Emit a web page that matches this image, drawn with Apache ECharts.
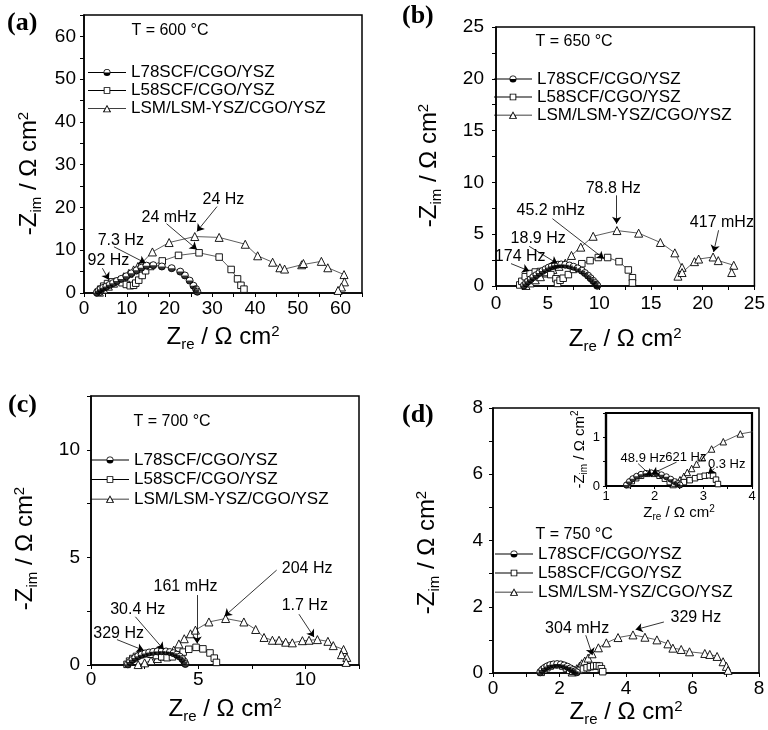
<!DOCTYPE html>
<html><head><meta charset="utf-8">
<script src="https://cdn.jsdelivr.net/npm/echarts@6/dist/echarts.min.js"></script>
<style>html,body{margin:0;padding:0;background:#fff}#c{width:768px;height:730px}</style>
</head><body><div id="c"></div>
<script>
// ---------- data ----------
const seriesNames = ['L78SCF/CGO/YSZ', 'L58SCF/CGO/YSZ', 'LSM/LSM-YSZ/CGO/YSZ'];
const panelLetters = ['(a)', '(b)', '(c)', '(d)'];
const temperatures = ['T = 600 °C', 'T = 650 °C', 'T = 700 °C', 'T = 750 °C'];
// axis ranges: [min, max, tick step, label step]
const a_axis = [0, 65, 5, 10];
const b_axis = [0, 25, 2.5, 5];
const c_axis = [0, 12.5, 2.5, 5];
const d_axis = [0, 8, 1, 2];
const inset_xAxis = [1, 4, 0.5, 1];
const inset_yAxis = [0, 1.5, 0.5, 1];

const a_L78 = [[3.0,0.1],[3.4,0.5],[3.9,0.9],[4.5,1.2],[5.2,1.5],[6.0,1.9],[6.8,2.3],[7.7,2.8],[8.7,3.3],[9.9,3.9],[11.1,4.6],[12.3,5.3],[13.4,5.9],[14.6,6.4],[16.2,6.5],[18.2,6.2],[20.5,5.8],[22.5,5.0],[23.6,4.1],[24.7,2.9],[25.6,1.7],[26.2,0.9],[26.5,0.3]];
const a_L58 = [[3.3,0.2],[3.9,0.9],[4.6,1.6],[5.5,2.2],[6.6,2.6],[7.8,2.7],[8.9,2.4],[9.9,2.0],[10.8,1.7],[11.6,1.8],[12.1,2.3],[12.8,3.0],[13.6,4.1],[14.4,5.2],[15.6,6.2],[18.3,7.5],[22.1,8.8],[26.9,9.4],[31.6,8.4],[34.4,5.5],[35.9,3.3],[36.7,1.8],[37.4,0.9]];
const a_LSM = [[3.6,0.2],[4.6,0.9],[5.7,1.6],[6.9,2.3],[8.1,3.0],[9.3,3.8],[10.5,4.6],[11.6,5.4],[12.6,6.2],[13.4,6.9],[16.0,9.6],[19.9,11.8],[25.9,13.2],[31.6,13.0],[37.7,11.4],[40.6,8.7],[44.1,7.2],[45.8,5.9],[46.9,5.6],[50.9,6.6],[51.3,6.9],[55.5,7.4],[57.0,5.9],[60.8,4.3],[60.9,2.6],[60.2,1.4],[59.4,0.6]];

const b_L78 = [[2.7,0.05],[2.9,0.25],[3.1,0.45],[3.35,0.65],[3.6,0.85],[3.9,1.05],[4.2,1.25],[4.5,1.45],[4.8,1.62],[5.1,1.78],[5.4,1.9],[5.7,2.0],[6.0,2.06],[6.3,2.08],[6.7,2.05],[7.1,1.98],[7.5,1.86],[7.9,1.7],[8.3,1.48],[8.6,1.25],[8.9,1.0],[9.15,0.75],[9.4,0.5],[9.6,0.28],[9.75,0.1],[9.8,0.02]];
const b_L58 = [[2.3,0.1],[2.5,0.45],[2.83,0.9],[3.3,1.2],[3.8,1.35],[4.3,1.4],[4.8,1.3],[5.3,1.1],[5.8,0.7],[5.95,0.25],[6.2,0.55],[6.5,0.75],[7.0,1.1],[7.5,1.6],[8.3,2.15],[9.1,2.45],[9.9,2.75],[10.8,2.75],[11.9,2.35],[12.8,1.55],[13.2,0.8],[13.2,0.3]];
const b_LSM = [[2.9,0.05],[3.3,0.3],[3.8,0.6],[4.3,0.9],[4.9,1.25],[5.5,1.6],[6.1,1.9],[6.7,2.2],[7.3,2.95],[8.2,3.75],[9.4,4.8],[11.7,5.35],[13.8,5.1],[15.9,4.2],[17.3,3.2],[18.0,1.8],[17.6,0.95],[18.0,1.3],[19.2,2.35],[19.6,2.6],[21.0,2.8],[21.5,2.45],[23.0,2.0],[22.8,1.3]];

const c_L78 = [[1.72,0.03],[1.82,0.14],[1.93,0.24],[2.06,0.33],[2.2,0.41],[2.36,0.48],[2.53,0.54],[2.71,0.58],[2.9,0.61],[3.1,0.63],[3.3,0.64],[3.5,0.63],[3.68,0.6],[3.85,0.55],[4.0,0.48],[4.14,0.39],[4.26,0.28],[4.35,0.16],[4.4,0.05]];
const c_L58 = [[1.68,0.03],[1.8,0.18],[1.95,0.3],[2.12,0.4],[2.32,0.48],[2.55,0.52],[2.8,0.5],[3.05,0.44],[3.3,0.38],[3.55,0.34],[3.8,0.38],[4.05,0.48],[4.3,0.6],[4.56,0.73],[4.9,0.82],[5.22,0.75],[5.55,0.56],[5.75,0.32],[5.85,0.12]];
const c_LSM = [[2.2,0.02],[2.5,0.1],[2.8,0.2],[3.1,0.3],[3.35,0.42],[3.6,0.55],[3.86,0.69],[4.1,0.98],[4.35,1.22],[4.64,1.45],[4.87,1.62],[5.5,2.0],[6.28,2.16],[7.13,2.0],[7.68,1.65],[8.07,1.28],[8.46,1.15],[8.77,1.15],[9.08,1.06],[9.39,1.03],[9.86,1.13],[10.17,1.15],[10.56,1.18],[11.05,1.1],[11.3,0.9],[11.78,0.72],[11.68,0.48],[11.93,0.35],[11.9,0.12]];

const d_L78 = [[1.42,0.02],[1.48,0.09],[1.55,0.15],[1.63,0.2],[1.72,0.24],[1.82,0.26],[1.93,0.27],[2.04,0.26],[2.14,0.23],[2.24,0.19],[2.33,0.14],[2.41,0.09],[2.47,0.05],[2.52,0.02]];
const d_L58 = [[1.45,0.02],[1.53,0.1],[1.62,0.16],[1.72,0.21],[1.85,0.25],[1.98,0.25],[2.1,0.21],[2.21,0.15],[2.31,0.08],[2.4,0.05],[2.5,0.05],[2.6,0.08],[2.72,0.12],[2.83,0.16],[2.93,0.19],[3.03,0.21],[3.12,0.22],[3.2,0.21],[3.26,0.13],[3.3,0.04]];
const d_LSM = [[2.38,0.03],[2.45,0.08],[2.52,0.13],[2.6,0.2],[2.67,0.28],[2.76,0.36],[2.86,0.45],[2.98,0.58],[3.17,0.76],[3.41,0.91],[3.76,1.07],[4.21,1.15],[4.57,1.08],[4.93,1.0],[5.26,0.88],[5.41,0.75],[5.66,0.71],[5.91,0.64],[6.37,0.59],[6.52,0.56],[6.74,0.5],[6.92,0.34],[7.02,0.2],[7.07,0.08]];

// annotations: [text, text position, arrow start, arrow end]
const a_notes = [
  ['92 Hz', [5.7, 7.5], [4.3, 5.8], [5.8, 3.1]],
  ['7.3 Hz', [8.6, 12.2], [7.0, 10.8], [14.4, 7.0]],
  ['24 mHz', [19.9, 17.7], [19.3, 16.2], [26.4, 10.2]],
  ['24 Hz', [32.6, 21.8], [31.1, 20.2], [26.4, 14.4]]
];
const b_notes = [
  ['174 Hz', [2.34, 2.87], [1.45, 2.16], [3.21, 1.45]],
  ['18.9 Hz', [4.08, 4.57], [3.21, 3.83], [5.94, 2.16]],
  ['45.2 mHz', [5.3, 7.24], [5.46, 6.5], [10.44, 2.64]],
  ['78.8 Hz', [11.34, 9.4], [11.67, 8.75], [11.67, 6.0]],
  ['417 mHz', [21.85, 6.08], [21.53, 5.38], [21.05, 3.28]]
];
const c_notes = [
  ['329 Hz', [1.29, 1.46], [1.21, 1.18], [2.46, 0.68]],
  ['30.4 Hz', [2.18, 2.58], [2.07, 2.24], [3.39, 0.72]],
  ['161 mHz', [4.41, 3.63], [4.95, 3.25], [4.95, 1.0]],
  ['204 Hz', [10.08, 4.49], [8.66, 4.41], [6.23, 2.27]],
  ['1.7 Hz', [9.97, 2.78], [9.7, 2.36], [10.4, 1.3]]
];
const d_notes = [
  ['304 mHz', [2.53, 1.34], [2.79, 1.14], [2.99, 0.54]],
  ['329 Hz', [6.1, 1.68], [5.14, 1.54], [4.29, 1.31]]
];
const inset_notes = [
  ['48.9 Hz', [1.76, 0.56], [1.66, 0.46], [1.94, 0.2]],
  ['621 Hz', [2.64, 0.59], [2.45, 0.49], [1.94, 0.25]],
  ['0.3 Hz', [3.48, 0.44], [3.23, 0.36], [3.1, 0.25]]
];
const tempPositions = [[20.1, 61.4], [7.55, 23.55], [3.78, 11.32], [2.44, 4.17]];

// ---------- layout / styles ----------
const font = "'Liberation Sans', Arial, Helvetica, sans-serif";
const serif = "'Liberation Serif', 'Times New Roman', serif";
const yName = '-Z{s|im} / Ω cm{p|2}';
const xName = 'Z{s|re} / Ω cm{p|2}';

const panels = [
  {axis: a_axis, L78: a_L78, L58: a_L58, LSM: a_LSM, notes: a_notes,
   grid: {left: 84, top: 15, width: 278, height: 278}, legend: {left: 88, top: 64, gap: 1},
   yGap: 40, yShift: 39, xGap: 30, yMargin: 8, xMargin: 6, title: {left: 7, top: 10}},
  {axis: b_axis, L78: b_L78, L58: b_L58, LSM: b_LSM, notes: b_notes,
   grid: {left: 496, top: 27, width: 259, height: 259}, legend: {left: 494, top: 70.5, gap: 1},
   yGap: 52, yShift: 18, xGap: 39, yMargin: 12, xMargin: 8, title: {left: 402, top: 3}},
  {axis: c_axis, L78: c_L78, L58: c_L58, LSM: c_LSM, notes: c_notes,
   grid: {left: 91, top: 396, width: 268, height: 269}, legend: {left: 91, top: 451.5, gap: 2.5},
   yGap: 51, yShift: 36, xGap: 30, yMargin: 11, xMargin: 5.5, title: {left: 8, top: 392}},
  {axis: d_axis, L78: d_L78, L58: d_L58, LSM: d_LSM, notes: d_notes,
   grid: {left: 493, top: 408, width: 266, height: 265}, legend: {left: 495, top: 545.5, gap: 2},
   yGap: 51, yShift: 24, xGap: 24, yMargin: 10, xMargin: 6, title: {left: 402, top: 402}}
];

const icons = {
  'L78SCF/CGO/YSZ': 'path://M0,3.6L15.5,3.6L15.5,4.4L0,4.4Z M22.5,3.6L38,3.6L38,4.4L22.5,4.4Z M15.5,4A3.5,3.5 0 0 0 22.5,4Z M22.5,4A3.5,3.5 0 0 0 15.5,4L16.3,4A2.7,2.7 0 0 1 21.7,4Z',
  'L58SCF/CGO/YSZ': 'path://M0,3.6L15.7,3.6L15.7,4.4L0,4.4Z M22.3,3.6L38,3.6L38,4.4L22.3,4.4Z M15.7,0.7L22.3,0.7L22.3,7.3L15.7,7.3Z M16.6,1.6L16.6,6.4L21.4,6.4L21.4,1.6Z',
  'LSM/LSM-YSZ/CGO/YSZ': 'path://M0,3.6L16.8,3.6L16.8,4.4L0,4.4Z M21.2,3.6L38,3.6L38,4.4L21.2,4.4Z M19,0L23.2,7.6L14.8,7.6Z M19,1.9L16.4,6.9L21.6,6.9Z'
};

function fmt(r) {
  return function (v) {
    const k = v / r[3];
    return Math.abs(k - Math.round(k)) < 1e-6 ? String(v) : '';
  };
}
function axis(gi, r, o) {
  return {
    type: 'value', gridIndex: gi, min: r[0], max: r[1], interval: r[2],
    axisLine: {show: true, onZero: false, lineStyle: {color: '#000', width: o.lw}},
    axisTick: {show: true, length: o.tick, lineStyle: {color: '#000', width: 1}},
    splitLine: {show: false},
    axisLabel: {show: true, margin: o.margin, fontSize: o.fs, color: '#000', fontFamily: font, formatter: fmt(r)},
    name: o.shift ? o.name + '{w|\u00a0}' : o.name, nameLocation: 'middle', nameGap: o.gap,
    nameTextStyle: {fontSize: o.nfs, color: '#000', fontFamily: font,
      rich: {
        s: {fontSize: o.sfs, color: '#000', fontFamily: font, padding: [o.sub, 0, 0, 0]},
        p: {fontSize: o.sfs, color: '#000', fontFamily: font, padding: [0, 0, o.sup, 0]},
        w: {fontSize: o.sfs, width: o.shift || 1}
      }}
  };
}
function lineSeries(name, data, gi, symbol, size) {
  return {type: 'line', name: name, data: data, xAxisIndex: gi, yAxisIndex: gi,
    symbol: symbol, symbolSize: size, showSymbol: true,
    lineStyle: {color: '#333', width: 0.8},
    itemStyle: {color: '#fff', borderColor: '#000', borderWidth: 0.9},
    emphasis: {disabled: true}, animation: false, silent: true, z: 2};
}
function halfSeries(data, gi, size) {
  return {type: 'scatter', name: 'half', data: data, xAxisIndex: gi, yAxisIndex: gi,
    symbol: 'path://M0,0A10,10 0 0 0 20,0Z', symbolSize: [size, size / 2], symbolOffset: [0, '50%'],
    itemStyle: {color: '#000'}, emphasis: {disabled: true}, animation: false, silent: true, z: 3};
}
function noteSeries(gi, notes, extra, fs) {
  const pts = notes.map(n => ({coord: n[1], name: n[0]}));
  if (extra) pts.push(extra);
  return {type: 'scatter', name: 'notes', data: [], xAxisIndex: gi, yAxisIndex: gi, silent: true, z: 5,
    animation: false,
    markPoint: {symbol: 'circle', symbolSize: 1, itemStyle: {color: 'rgba(0,0,0,0)'}, animation: false,
      label: {show: true, position: 'inside', formatter: '{b}', fontSize: fs, color: '#000', fontFamily: font},
      data: pts},
    markLine: {symbol: ['none', 'arrow'], symbolSize: 7, animation: false, silent: true,
      lineStyle: {color: '#000', width: 0.8, type: 'solid'}, label: {show: false},
      emphasis: {disabled: true},
      data: notes.map(n => [{coord: n[2]}, {coord: n[3]}])}
  };
}

const option = {backgroundColor: '#fff', animation: false, title: [], grid: [], xAxis: [], yAxis: [], legend: [], series: []};

panels.forEach((p, i) => {
  option.grid.push(Object.assign({show: true, borderColor: '#000', borderWidth: 1.5, backgroundColor: 'rgba(0,0,0,0)'}, p.grid));
  option.xAxis.push(axis(i, p.axis, {lw: 1.5, tick: 4, margin: p.xMargin, fs: 19, name: xName, gap: p.xGap,
    nfs: 24, sfs: 15, sub: 14, sup: 12, shift: 0}));
  option.yAxis.push(axis(i, p.axis, {lw: 1.5, tick: 4, margin: p.yMargin, fs: 19, name: yName, gap: p.yGap,
    nfs: 24, sfs: 15, sub: 14, sup: 12, shift: p.yShift}));
  option.title.push({text: panelLetters[i], left: p.title.left, top: p.title.top, padding: 0,
    textStyle: {fontFamily: serif, fontWeight: 'bold', fontSize: 26, color: '#000'}});
  option.legend.push({orient: 'vertical', left: p.legend.left, top: p.legend.top, itemGap: p.legend.gap,
    itemWidth: 38, itemHeight: 8, selectedMode: false, padding: 0,
    itemStyle: {color: '#000', borderWidth: 0},
    textStyle: {fontSize: 17, lineHeight: 17, color: '#000', fontFamily: font},
    data: seriesNames.map(n => ({name: n, icon: icons[n]}))});
  option.series.push(lineSeries(seriesNames[2], p.LSM, i, 'triangle', 8));
  option.series.push(lineSeries(seriesNames[1], p.L58, i, 'rect', 6.5));
  option.series.push(lineSeries(seriesNames[0], p.L78, i, 'circle', 7));
  option.series.push(halfSeries(p.L78, i, 7));
  option.series.push(noteSeries(i, p.notes, {coord: tempPositions[i], name: temperatures[i]}, 16));
});

// inset of panel (d)
const gi = 4;
option.grid.push({left: 606, top: 413, width: 146, height: 73, show: true, borderColor: '#000', borderWidth: 2.2, backgroundColor: '#fff'});
option.xAxis.push(axis(gi, inset_xAxis, {lw: 2.2, tick: 3, margin: 4, fs: 13, name: xName, gap: 15,
  nfs: 15, sfs: 10, sub: 9, sup: 8, shift: 0}));
option.yAxis.push(axis(gi, inset_yAxis, {lw: 2.2, tick: 3, margin: 6, fs: 13, name: yName, gap: 12,
  nfs: 15, sfs: 10, sub: 9, sup: 8, shift: 0}));
option.series.push(lineSeries(seriesNames[2], d_LSM, gi, 'triangle', 6.5));
option.series.push(lineSeries(seriesNames[1], d_L58, gi, 'rect', 5.5));
option.series.push(lineSeries(seriesNames[0], d_L78, gi, 'circle', 6));
option.series.push(halfSeries(d_L78, gi, 6));
option.series.push(noteSeries(gi, inset_notes, null, 13));

const chart = echarts.init(document.getElementById('c'), null, {renderer: 'canvas'});
chart.setOption(option);
</script>
</body></html>
